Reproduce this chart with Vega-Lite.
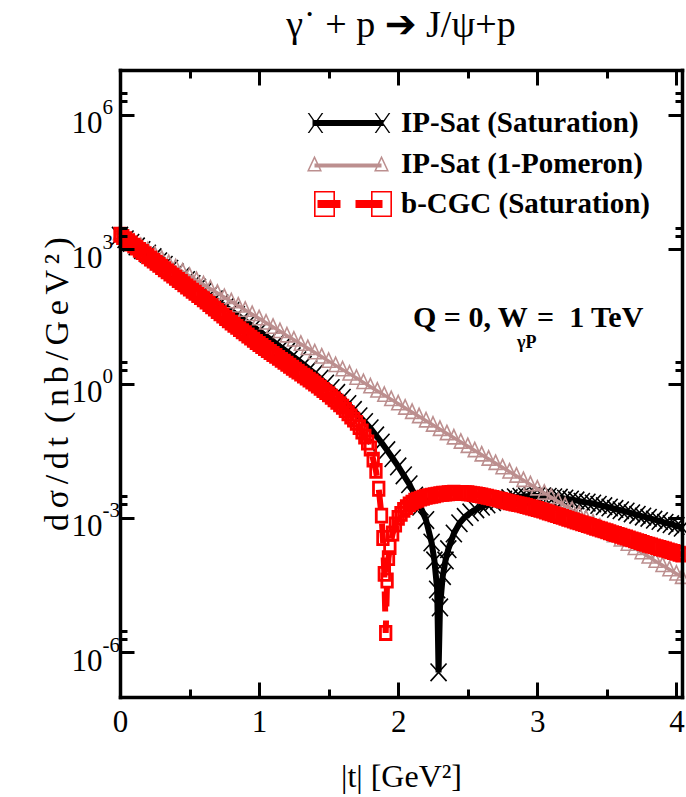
{
"$schema": "https://vega.github.io/schema/vega-lite/v6.json",
"width": 562, "height": 627, "autosize": "none",
"padding": {"left": 120, "top": 70, "right": 4, "bottom": 100},
"background": "white",
"config": {"view": {"stroke": null}},
"title": {"text": "γ˙  + p ➔ J/ψ+p", "font": "Liberation Serif, DejaVu Sans", "fontSize": 38, "fontWeight": "normal", "color": "black", "anchor": "middle", "frame": "group", "baseline": "alphabetic", "offset": 32, "dy": 38},
"datasets": {
"ipsat_sat": [{"t":0,"dsdt":2000},{"t":0.04,"dsdt":1660},{"t":0.08,"dsdt":1380},{"t":0.12,"dsdt":1150},{"t":0.16,"dsdt":955},{"t":0.2,"dsdt":794},{"t":0.24,"dsdt":661},{"t":0.28,"dsdt":537},{"t":0.32,"dsdt":447},{"t":0.36,"dsdt":363},{"t":0.4,"dsdt":302},{"t":0.44,"dsdt":245},{"t":0.48,"dsdt":204},{"t":0.52,"dsdt":166},{"t":0.56,"dsdt":138},{"t":0.6,"dsdt":112},{"t":0.64,"dsdt":91.2},{"t":0.68,"dsdt":75.9},{"t":0.72,"dsdt":61.7},{"t":0.76,"dsdt":51.3},{"t":0.8,"dsdt":41.7},{"t":0.84,"dsdt":33.9},{"t":0.88,"dsdt":27.5},{"t":0.92,"dsdt":22.4},{"t":0.96,"dsdt":18.2},{"t":1,"dsdt":14.8},{"t":1.04,"dsdt":12.0},{"t":1.08,"dsdt":9.77},{"t":1.12,"dsdt":7.76},{"t":1.16,"dsdt":6.31},{"t":1.2,"dsdt":5.13},{"t":1.24,"dsdt":4.07},{"t":1.28,"dsdt":3.31},{"t":1.32,"dsdt":2.63},{"t":1.36,"dsdt":2.09},{"t":1.4,"dsdt":1.66},{"t":1.44,"dsdt":1.29},{"t":1.48,"dsdt":1.0},{"t":1.52,"dsdt":0.794},{"t":1.56,"dsdt":0.617},{"t":1.6,"dsdt":0.479},{"t":1.64,"dsdt":0.347},{"t":1.68,"dsdt":0.257},{"t":1.72,"dsdt":0.186},{"t":1.76,"dsdt":0.138},{"t":1.8,"dsdt":0.1},{"t":1.84,"dsdt":0.0692},{"t":1.88,"dsdt":0.0479},{"t":1.92,"dsdt":0.0324},{"t":1.96,"dsdt":0.0214},{"t":2,"dsdt":0.0141},{"t":2.04,"dsdt":0.00891},{"t":2.08,"dsdt":0.00562},{"t":2.12,"dsdt":0.00316},{"t":2.16,"dsdt":0.00178},{"t":2.2,"dsdt":8.91e-4},{"t":2.24,"dsdt":2.82e-4},{"t":2.26,"dsdt":1.12e-4},{"t":2.28,"dsdt":2.51e-5},{"t":2.29,"dsdt":3.55e-7},{"t":2.3,"dsdt":1.0e-5},{"t":2.32,"dsdt":5.01e-5},{"t":2.34,"dsdt":1.12e-4},{"t":2.36,"dsdt":2.0e-4},{"t":2.4,"dsdt":4.47e-4},{"t":2.44,"dsdt":7.59e-4},{"t":2.48,"dsdt":1.05e-3},{"t":2.52,"dsdt":1.32e-3},{"t":2.56,"dsdt":1.55e-3},{"t":2.6,"dsdt":1.78e-3},{"t":2.64,"dsdt":2.0e-3},{"t":2.68,"dsdt":2.24e-3},{"t":2.72,"dsdt":2.4e-3},{"t":2.76,"dsdt":2.57e-3},{"t":2.8,"dsdt":2.75e-3},{"t":2.84,"dsdt":2.88e-3},{"t":2.88,"dsdt":2.95e-3},{"t":2.92,"dsdt":3.02e-3},{"t":2.96,"dsdt":3.09e-3},{"t":3,"dsdt":3.09e-3},{"t":3.04,"dsdt":3.02e-3},{"t":3.08,"dsdt":2.95e-3},{"t":3.12,"dsdt":2.88e-3},{"t":3.16,"dsdt":2.82e-3},{"t":3.2,"dsdt":2.69e-3},{"t":3.24,"dsdt":2.57e-3},{"t":3.28,"dsdt":2.45e-3},{"t":3.32,"dsdt":2.29e-3},{"t":3.36,"dsdt":2.19e-3},{"t":3.4,"dsdt":2.09e-3},{"t":3.44,"dsdt":1.95e-3},{"t":3.48,"dsdt":1.82e-3},{"t":3.52,"dsdt":1.7e-3},{"t":3.56,"dsdt":1.58e-3},{"t":3.6,"dsdt":1.48e-3},{"t":3.64,"dsdt":1.38e-3},{"t":3.68,"dsdt":1.26e-3},{"t":3.72,"dsdt":1.17e-3},{"t":3.76,"dsdt":1.07e-3},{"t":3.8,"dsdt":1.0e-3},{"t":3.84,"dsdt":9.12e-4},{"t":3.88,"dsdt":8.51e-4},{"t":3.92,"dsdt":7.76e-4},{"t":3.96,"dsdt":7.24e-4},{"t":4,"dsdt":6.61e-4},{"t":4.04,"dsdt":6.03e-4}],
"ipsat_pom": [{"t":0,"dsdt":2240},{"t":0.05,"dsdt":1800},{"t":0.1,"dsdt":1450},{"t":0.15,"dsdt":1160},{"t":0.2,"dsdt":933},{"t":0.25,"dsdt":750},{"t":0.3,"dsdt":603},{"t":0.35,"dsdt":484},{"t":0.4,"dsdt":389},{"t":0.45,"dsdt":313},{"t":0.5,"dsdt":251},{"t":0.55,"dsdt":202},{"t":0.6,"dsdt":162},{"t":0.65,"dsdt":130},{"t":0.7,"dsdt":105},{"t":0.75,"dsdt":84.1},{"t":0.8,"dsdt":67.6},{"t":0.85,"dsdt":54.3},{"t":0.9,"dsdt":43.7},{"t":0.95,"dsdt":35.1},{"t":1,"dsdt":28.2},{"t":1.05,"dsdt":22.6},{"t":1.1,"dsdt":18.2},{"t":1.15,"dsdt":14.6},{"t":1.2,"dsdt":11.7},{"t":1.25,"dsdt":9.44},{"t":1.3,"dsdt":7.59},{"t":1.35,"dsdt":6.1},{"t":1.4,"dsdt":4.9},{"t":1.45,"dsdt":3.94},{"t":1.5,"dsdt":3.16},{"t":1.55,"dsdt":2.54},{"t":1.6,"dsdt":2.04},{"t":1.65,"dsdt":1.64},{"t":1.7,"dsdt":1.32},{"t":1.75,"dsdt":1.06},{"t":1.8,"dsdt":0.851},{"t":1.85,"dsdt":0.684},{"t":1.9,"dsdt":0.55},{"t":1.95,"dsdt":0.442},{"t":2,"dsdt":0.355},{"t":2.05,"dsdt":0.285},{"t":2.1,"dsdt":0.229},{"t":2.15,"dsdt":0.184},{"t":2.2,"dsdt":0.148},{"t":2.25,"dsdt":0.119},{"t":2.3,"dsdt":0.0955},{"t":2.35,"dsdt":0.0767},{"t":2.4,"dsdt":0.0617},{"t":2.45,"dsdt":0.0495},{"t":2.5,"dsdt":0.0398},{"t":2.55,"dsdt":0.032},{"t":2.6,"dsdt":0.0257},{"t":2.65,"dsdt":0.0207},{"t":2.7,"dsdt":0.0166},{"t":2.75,"dsdt":0.0133},{"t":2.8,"dsdt":0.0107},{"t":2.85,"dsdt":8.61e-3},{"t":2.9,"dsdt":6.92e-3},{"t":2.95,"dsdt":5.56e-3},{"t":3,"dsdt":4.47e-3},{"t":3.05,"dsdt":3.59e-3},{"t":3.1,"dsdt":2.88e-3},{"t":3.15,"dsdt":2.32e-3},{"t":3.2,"dsdt":1.86e-3},{"t":3.25,"dsdt":1.5e-3},{"t":3.3,"dsdt":1.2e-3},{"t":3.35,"dsdt":9.66e-4},{"t":3.4,"dsdt":7.76e-4},{"t":3.45,"dsdt":6.24e-4},{"t":3.5,"dsdt":5.01e-4},{"t":3.55,"dsdt":4.03e-4},{"t":3.6,"dsdt":3.24e-4},{"t":3.65,"dsdt":2.6e-4},{"t":3.7,"dsdt":2.09e-4},{"t":3.75,"dsdt":1.68e-4},{"t":3.8,"dsdt":1.35e-4},{"t":3.85,"dsdt":1.08e-4},{"t":3.9,"dsdt":8.71e-5},{"t":3.95,"dsdt":7.0e-5},{"t":4,"dsdt":5.62e-5},{"t":4.04,"dsdt":4.72e-5}],
"bcgc_sat": [{"t":0,"dsdt":2090},{"t":0.02,"dsdt":1870},{"t":0.04,"dsdt":1670},{"t":0.06,"dsdt":1500},{"t":0.08,"dsdt":1340},{"t":0.1,"dsdt":1200},{"t":0.12,"dsdt":1080},{"t":0.14,"dsdt":964},{"t":0.16,"dsdt":863},{"t":0.18,"dsdt":773},{"t":0.2,"dsdt":692},{"t":0.22,"dsdt":619},{"t":0.24,"dsdt":555},{"t":0.26,"dsdt":497},{"t":0.28,"dsdt":445},{"t":0.3,"dsdt":398},{"t":0.32,"dsdt":356},{"t":0.34,"dsdt":319},{"t":0.36,"dsdt":286},{"t":0.38,"dsdt":256},{"t":0.4,"dsdt":229},{"t":0.42,"dsdt":205},{"t":0.44,"dsdt":184},{"t":0.46,"dsdt":164},{"t":0.48,"dsdt":147},{"t":0.5,"dsdt":132},{"t":0.52,"dsdt":118},{"t":0.54,"dsdt":106},{"t":0.56,"dsdt":94.6},{"t":0.58,"dsdt":84.7},{"t":0.6,"dsdt":75.9},{"t":0.62,"dsdt":67.3},{"t":0.64,"dsdt":59.7},{"t":0.66,"dsdt":53.0},{"t":0.68,"dsdt":47.0},{"t":0.7,"dsdt":41.7},{"t":0.72,"dsdt":37.0},{"t":0.74,"dsdt":32.8},{"t":0.76,"dsdt":29.1},{"t":0.78,"dsdt":25.8},{"t":0.8,"dsdt":22.9},{"t":0.82,"dsdt":20.5},{"t":0.84,"dsdt":18.4},{"t":0.86,"dsdt":16.4},{"t":0.88,"dsdt":14.7},{"t":0.9,"dsdt":13.2},{"t":0.92,"dsdt":11.8},{"t":0.94,"dsdt":10.6},{"t":0.96,"dsdt":9.46},{"t":0.98,"dsdt":8.47},{"t":1,"dsdt":7.59},{"t":1.02,"dsdt":6.85},{"t":1.04,"dsdt":6.19},{"t":1.06,"dsdt":5.6},{"t":1.08,"dsdt":5.06},{"t":1.1,"dsdt":4.57},{"t":1.12,"dsdt":4.13},{"t":1.14,"dsdt":3.73},{"t":1.16,"dsdt":3.37},{"t":1.18,"dsdt":3.05},{"t":1.2,"dsdt":2.75},{"t":1.22,"dsdt":2.49},{"t":1.24,"dsdt":2.25},{"t":1.26,"dsdt":2.03},{"t":1.28,"dsdt":1.84},{"t":1.3,"dsdt":1.66},{"t":1.32,"dsdt":1.5},{"t":1.34,"dsdt":1.36},{"t":1.36,"dsdt":1.22},{"t":1.38,"dsdt":1.11},{"t":1.4,"dsdt":1.0},{"t":1.42,"dsdt":0.895},{"t":1.44,"dsdt":0.802},{"t":1.46,"dsdt":0.718},{"t":1.48,"dsdt":0.643},{"t":1.5,"dsdt":0.575},{"t":1.52,"dsdt":0.506},{"t":1.54,"dsdt":0.445},{"t":1.56,"dsdt":0.391},{"t":1.58,"dsdt":0.344},{"t":1.6,"dsdt":0.302},{"t":1.62,"dsdt":0.256},{"t":1.64,"dsdt":0.217},{"t":1.66,"dsdt":0.184},{"t":1.68,"dsdt":0.156},{"t":1.7,"dsdt":0.132},{"t":1.72,"dsdt":0.106},{"t":1.74,"dsdt":0.0847},{"t":1.76,"dsdt":0.0652},{"t":1.78,"dsdt":0.0481},{"t":1.8,"dsdt":0.0355},{"t":1.82,"dsdt":0.02},{"t":1.84,"dsdt":0.0112},{"t":1.86,"dsdt":4.47e-3},{"t":1.88,"dsdt":1.12e-3},{"t":1.89,"dsdt":3.55e-4},{"t":1.9,"dsdt":5.62e-5},{"t":1.91,"dsdt":2.69e-6},{"t":1.92,"dsdt":3.98e-5},{"t":1.93,"dsdt":1.26e-4},{"t":1.94,"dsdt":2.24e-4},{"t":1.96,"dsdt":4.47e-4},{"t":1.98,"dsdt":7.08e-4},{"t":2,"dsdt":1.0e-3},{"t":2.02,"dsdt":1.23e-3},{"t":2.04,"dsdt":1.51e-3},{"t":2.06,"dsdt":1.74e-3},{"t":2.08,"dsdt":2.0e-3},{"t":2.1,"dsdt":2.19e-3},{"t":2.12,"dsdt":2.4e-3},{"t":2.14,"dsdt":2.54e-3},{"t":2.16,"dsdt":2.69e-3},{"t":2.18,"dsdt":2.82e-3},{"t":2.2,"dsdt":2.95e-3},{"t":2.22,"dsdt":3.03e-3},{"t":2.24,"dsdt":3.12e-3},{"t":2.26,"dsdt":3.21e-3},{"t":2.28,"dsdt":3.3e-3},{"t":2.3,"dsdt":3.39e-3},{"t":2.32,"dsdt":3.44e-3},{"t":2.34,"dsdt":3.48e-3},{"t":2.36,"dsdt":3.53e-3},{"t":2.38,"dsdt":3.58e-3},{"t":2.4,"dsdt":3.63e-3},{"t":2.42,"dsdt":3.61e-3},{"t":2.44,"dsdt":3.6e-3},{"t":2.46,"dsdt":3.58e-3},{"t":2.48,"dsdt":3.56e-3},{"t":2.5,"dsdt":3.55e-3},{"t":2.52,"dsdt":3.47e-3},{"t":2.54,"dsdt":3.39e-3},{"t":2.56,"dsdt":3.31e-3},{"t":2.58,"dsdt":3.24e-3},{"t":2.6,"dsdt":3.16e-3},{"t":2.62,"dsdt":3.06e-3},{"t":2.64,"dsdt":2.96e-3},{"t":2.66,"dsdt":2.87e-3},{"t":2.68,"dsdt":2.78e-3},{"t":2.7,"dsdt":2.69e-3},{"t":2.72,"dsdt":2.59e-3},{"t":2.74,"dsdt":2.5e-3},{"t":2.76,"dsdt":2.41e-3},{"t":2.78,"dsdt":2.32e-3},{"t":2.8,"dsdt":2.24e-3},{"t":2.82,"dsdt":2.17e-3},{"t":2.84,"dsdt":2.1e-3},{"t":2.86,"dsdt":2.03e-3},{"t":2.88,"dsdt":1.97e-3},{"t":2.9,"dsdt":1.91e-3},{"t":2.92,"dsdt":1.84e-3},{"t":2.94,"dsdt":1.77e-3},{"t":2.96,"dsdt":1.71e-3},{"t":2.98,"dsdt":1.64e-3},{"t":3,"dsdt":1.58e-3},{"t":3.02,"dsdt":1.51e-3},{"t":3.04,"dsdt":1.45e-3},{"t":3.06,"dsdt":1.38e-3},{"t":3.08,"dsdt":1.32e-3},{"t":3.1,"dsdt":1.26e-3},{"t":3.12,"dsdt":1.2e-3},{"t":3.14,"dsdt":1.15e-3},{"t":3.16,"dsdt":1.1e-3},{"t":3.18,"dsdt":1.05e-3},{"t":3.2,"dsdt":1.0e-3},{"t":3.22,"dsdt":9.55e-4},{"t":3.24,"dsdt":9.12e-4},{"t":3.26,"dsdt":8.71e-4},{"t":3.28,"dsdt":8.32e-4},{"t":3.3,"dsdt":7.94e-4},{"t":3.32,"dsdt":7.59e-4},{"t":3.34,"dsdt":7.24e-4},{"t":3.36,"dsdt":6.92e-4},{"t":3.38,"dsdt":6.61e-4},{"t":3.4,"dsdt":6.31e-4},{"t":3.42,"dsdt":6.03e-4},{"t":3.44,"dsdt":5.75e-4},{"t":3.46,"dsdt":5.5e-4},{"t":3.48,"dsdt":5.25e-4},{"t":3.5,"dsdt":5.01e-4},{"t":3.52,"dsdt":4.79e-4},{"t":3.54,"dsdt":4.57e-4},{"t":3.56,"dsdt":4.37e-4},{"t":3.58,"dsdt":4.17e-4},{"t":3.6,"dsdt":3.98e-4},{"t":3.62,"dsdt":3.8e-4},{"t":3.64,"dsdt":3.63e-4},{"t":3.66,"dsdt":3.47e-4},{"t":3.68,"dsdt":3.31e-4},{"t":3.7,"dsdt":3.16e-4},{"t":3.72,"dsdt":3.02e-4},{"t":3.74,"dsdt":2.88e-4},{"t":3.76,"dsdt":2.75e-4},{"t":3.78,"dsdt":2.63e-4},{"t":3.8,"dsdt":2.51e-4},{"t":3.82,"dsdt":2.41e-4},{"t":3.84,"dsdt":2.31e-4},{"t":3.86,"dsdt":2.22e-4},{"t":3.88,"dsdt":2.13e-4},{"t":3.9,"dsdt":2.04e-4},{"t":3.92,"dsdt":1.96e-4},{"t":3.94,"dsdt":1.88e-4},{"t":3.96,"dsdt":1.8e-4},{"t":3.98,"dsdt":1.73e-4},{"t":4,"dsdt":1.66e-4},{"t":4.02,"dsdt":1.58e-4},{"t":4.04,"dsdt":1.51e-4}]
},
"resolve": {"axis": {"x": "independent", "y": "independent"}},
"layer": [
{"data": {"name": "ipsat_sat"},
 "mark": {"type": "line", "strokeWidth": 6},
 "encoding": {
  "x": {"field": "t", "type": "quantitative", "scale": {"domain": [0, 4.04], "nice": false, "zero": false},
   "axis": {"orient": "bottom", "values": [0,0.5,1,1.5,2,2.5,3,3.5,4], "labelExpr": "datum.value % 1 == 0 ? format(datum.value, 'd') : ''", "labelFont": "Liberation Serif", "labelFontSize": 31, "labelColor": "black", "labelPadding": 25, "labelFlush": false, "labelOverlap": false, "labelBound": false,
    "tickSize": {"condition": {"test": "datum.value % 1 == 0", "value": -15}, "value": -8}, "tickWidth": 3, "tickColor": "black", "domainColor": "black", "domainWidth": 3.5, "domainCap": "square", "grid": false,
    "title": "|t| [GeV²]", "titleFont": "Liberation Serif", "titleFontSize": 32, "titleFontWeight": "normal", "titleColor": "black", "titlePadding": 17, "zindex": 1}},
  "y": {"field": "dsdt", "type": "quantitative", "scale": {"type": "log", "domain": [1e-7, 1e7], "nice": false},
   "axis": {"orient": "left", "values": [1e-6,2e-6,3e-6,0.001,0.002,0.003,1,2,3,1000,2000,3000,1e6,2e6,3e6],
    "labelExpr": "datum.value == 1e-6 || datum.value == 0.001 || datum.value == 1 || datum.value == 1000 || datum.value == 1e6 ? '10' : ''",
    "labelFont": "Liberation Serif", "labelFontSize": 31, "labelColor": "black", "labelPadding": 32, "labelOffset": 9, "labelAlign": "right", "labelBaseline": "middle", "labelOverlap": false, "labelBound": false, "labelFlush": false,
    "tickSize": {"condition": {"test": "datum.value == 1e-6 || datum.value == 0.001 || datum.value == 1 || datum.value == 1000 || datum.value == 1e6", "value": -14}, "value": -7}, "tickWidth": 3, "tickColor": "black", "domainColor": "black", "domainWidth": 3.5, "domainCap": "square", "grid": false,
    "title": "d\u2006σ\u2006/\u2006d\u2006t \u2006(\u2006n\u2006b\u2006/\u2006G\u2006e\u2006V\u2006²\u2006)", "titleFont": "Liberation Serif, DejaVu Serif", "titleFontSize": 34, "titleFontWeight": "normal", "titleColor": "black", "titlePadding": -3, "zindex": 1}},
  "color": {"datum": "IP-Sat (Saturation)",
   "scale": {"domain": ["IP-Sat (Saturation)", "IP-Sat (1-Pomeron)", "b-CGC (Saturation)"], "range": ["black", "#BC8F8F", "red"]},
   "legend": {"orient": "none", "legendX": 172, "legendY": 38.5, "title": null, "padding": 0, "labelFont": "Liberation Serif", "labelFontSize": 29, "labelFontWeight": "bold", "labelColor": "black", "labelLimit": 600, "labelOffset": 80, "rowPadding": 10.5, "symbolSize": 4,
    "encode": {"symbols": {"update": {
      "shape": {"signal": "datum.value === 'IP-Sat (Saturation)' ? 'M6,-3H77V3H6Z M1.2,-10L2.8,-10L16.8,10L15.2,10Z M15.2,-10L16.8,-10L2.8,10L1.2,10Z M68.2,-10L69.8,-10L83.8,10L82.2,10Z M82.2,-10L83.8,-10L69.8,10L68.2,10Z' : datum.value === 'IP-Sat (1-Pomeron)' ? 'M8,0H75V4H8Z M8,-8L15.5,8L0.5,8Z M8,-4.46L2.86,6.5L13.14,6.5Z M75,-8L82.5,8L67.5,8Z M75,-4.46L69.86,6.5L80.14,6.5Z' : 'M7.5,-13H28.5V13H7.5Z M9.1,-11.4V11.4H26.9V-11.4Z M64.5,-13H85.5V13H64.5Z M66.1,-11.4V11.4H83.9V-11.4Z M11,-4H34V4H11Z M49,-4H76V4H49Z'"},
      "fill": {"signal": "datum.value === 'IP-Sat (Saturation)' ? 'black' : datum.value === 'IP-Sat (1-Pomeron)' ? '#BC8F8F' : 'red'"},
      "fillOpacity": {"value": 1},
      "opacity": {"value": 1},
      "stroke": {"value": "transparent"},
      "strokeWidth": {"value": 0},
      "size": {"value": 4}
    }}}}}
 }},
{"data": {"name": "ipsat_sat"},
 "mark": {"type": "point", "shape": "M-1,-1.1L1,1.1M-1,1.1L1,-1.1", "size": 256, "filled": false, "strokeWidth": 1.6, "opacity": 1},
 "encoding": {"x": {"field": "t", "type": "quantitative", "axis": null}, "y": {"field": "dsdt", "type": "quantitative", "axis": null}, "color": {"datum": "IP-Sat (Saturation)", "legend": null}}},
{"data": {"name": "ipsat_pom"},
 "mark": {"type": "line", "strokeWidth": 3.5},
 "encoding": {"x": {"field": "t", "type": "quantitative", "axis": null}, "y": {"field": "dsdt", "type": "quantitative", "axis": null}, "color": {"datum": "IP-Sat (1-Pomeron)", "legend": null}}},
{"data": {"name": "ipsat_pom"},
 "mark": {"type": "point", "shape": "M0,-1.25L1,0.95L-1,0.95Z", "size": 169, "filled": false, "strokeWidth": 1.6, "opacity": 1},
 "encoding": {"x": {"field": "t", "type": "quantitative", "axis": null}, "y": {"field": "dsdt", "type": "quantitative", "axis": null}, "color": {"datum": "IP-Sat (1-Pomeron)", "legend": null}}},
{"data": {"name": "bcgc_sat"},
 "mark": {"type": "line", "strokeWidth": 6, "strokeDash": [20, 14]},
 "encoding": {"x": {"field": "t", "type": "quantitative", "axis": null}, "y": {"field": "dsdt", "type": "quantitative", "axis": null}, "color": {"datum": "b-CGC (Saturation)", "legend": null}}},
{"data": {"name": "bcgc_sat"},
 "mark": {"type": "point", "shape": "M-1,-1.25H1V1.25H-1Z", "size": 110, "filled": false, "strokeWidth": 2.8, "opacity": 1},
 "encoding": {"x": {"field": "t", "type": "quantitative", "axis": null}, "y": {"field": "dsdt", "type": "quantitative", "axis": null}, "color": {"datum": "b-CGC (Saturation)", "legend": null}}},
{"data": {"values": [{}]},
 "mark": {"type": "text", "text": "Q = 0, W", "font": "Liberation Serif", "fontSize": 30, "fontWeight": "bold", "color": "black", "align": "left", "baseline": "alphabetic"},
 "encoding": {
  "x": {"datum": 2.106, "type": "quantitative", "axis": {"orient": "top", "values": [0,0.5,1,1.5,2,2.5,3,3.5,4], "labels": false, "title": null, "tickSize": {"condition": {"test": "datum.value % 1 == 0", "value": -15}, "value": -8}, "tickWidth": 3, "tickColor": "black", "domainColor": "black", "domainWidth": 3.5, "domainCap": "square", "grid": false, "zindex": 1}},
  "y": {"datum": 18.3, "type": "quantitative", "axis": {"orient": "right", "values": [1e-6,2e-6,3e-6,0.001,0.002,0.003,1,2,3,1000,2000,3000,1e6,2e6,3e6], "labels": false, "title": null, "tickSize": {"condition": {"test": "datum.value == 1e-6 || datum.value == 0.001 || datum.value == 1 || datum.value == 1000 || datum.value == 1e6", "value": -14}, "value": -7}, "tickWidth": 3, "tickColor": "black", "domainColor": "black", "domainWidth": 3.5, "domainCap": "square", "grid": false, "zindex": 1}}
 }},
{"data": {"values": [{}]},
 "mark": {"type": "text", "text": "γP", "font": "Liberation Serif", "fontSize": 18, "fontWeight": "bold", "color": "black", "align": "left", "baseline": "alphabetic"},
 "encoding": {"x": {"datum": 2.854, "type": "quantitative", "axis": null},
  "y": {"datum": 6.2, "type": "quantitative", "axis": {"orient": "left", "values": [1e-6,0.001,1,1000,1e6], "labelExpr": "datum.value == 1e6 ? '6' : datum.value == 1000 ? '3' : datum.value == 1 ? '0' : datum.value == 0.001 ? '-3' : '-6'", "labelFont": "Liberation Serif", "labelFontSize": 21, "labelColor": "black", "labelAlign": "left", "labelBaseline": "middle", "labelPadding": 18, "labelOffset": -7, "labelOverlap": false, "labelBound": false, "labelFlush": false, "ticks": false, "tickSize": 0, "domain": false, "grid": false, "title": null, "zindex": 1}}}},
{"data": {"values": [{}]},
 "mark": {"type": "text", "text": "=\u00a0\u00a01 TeV", "font": "Liberation Serif", "fontSize": 30, "fontWeight": "bold", "color": "black", "align": "left", "baseline": "alphabetic"},
 "encoding": {"x": {"datum": 2.998, "type": "quantitative", "axis": null}, "y": {"datum": 18.3, "type": "quantitative", "axis": null}}}
]
}
